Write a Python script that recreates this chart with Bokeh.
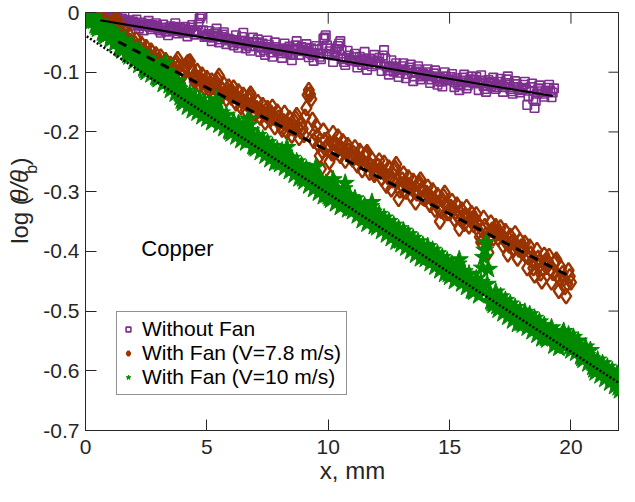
from math import pi
from bokeh.plotting import figure
from bokeh.layouts import row
from bokeh.models import Range1d, FixedTicker, Label
from bokeh.core.properties import value
from bokeh.embed import file_html
from bokeh.resources import INLINE

# ---------------- data ----------------
x_step = 0.1  # sampling step of the measurements, mm
# readings on the grid 0, 0.1, 0.2, ... and on the half-steps 0.05, 0.15, ...

purple_y = [
    0.000, -0.004, 0.000, -0.007, -0.002, -0.009, -0.004, -0.001, -0.010, -0.005,
    -0.012, -0.004, -0.016, -0.008, -0.019, -0.010, -0.006, -0.021, -0.013, -0.017,
    -0.022, -0.012, -0.027, -0.017, -0.030, -0.020, -0.014, -0.028, -0.024, -0.018,
    -0.027, -0.034, -0.020, -0.031, -0.038, -0.023, -0.030, -0.018, -0.035, -0.026,
    -0.033, -0.024, -0.040, -0.029, -0.021, -0.037, -0.030, -0.010, -0.003, -0.041,
    -0.040, -0.031, -0.048, -0.036, -0.027, -0.050, -0.041, -0.033, -0.053, -0.044,
    -0.046, -0.055, -0.038, -0.059, -0.047, -0.034, -0.060, -0.050, -0.064, -0.042,
    -0.056, -0.045, -0.066, -0.052, -0.071, -0.047, -0.060, -0.074, -0.050, -0.065,
    -0.061, -0.076, -0.052, -0.068, -0.057, -0.080, -0.063, -0.048, -0.071, -0.058,
    -0.065, -0.053, -0.075, -0.060, -0.081, -0.056, -0.069, -0.078, -0.044, -0.038,
    -0.070, -0.060, -0.083, -0.066, -0.056, -0.048, -0.078, -0.088, -0.064, -0.080,
    -0.080, -0.069, -0.092, -0.074, -0.088, -0.066, -0.096, -0.077, -0.090, -0.071,
    -0.087, -0.076, -0.098, -0.063, -0.090, -0.104, -0.080, -0.099, -0.085, -0.108,
    -0.095, -0.085, -0.110, -0.096, -0.087, -0.115, -0.099, -0.090, -0.112, -0.102,
    -0.105, -0.095, -0.118, -0.107, -0.097, -0.121, -0.109, -0.124, -0.100, -0.114,
    -0.113, -0.103, -0.125, -0.110, -0.130, -0.114, -0.104, -0.127, -0.117, -0.107,
    -0.118, -0.108, -0.130, -0.105, -0.123, -0.133, -0.113, -0.124, -0.109, -0.128,
    -0.121, -0.111, -0.133, -0.118, -0.107, -0.128, -0.136, -0.115, -0.125, -0.134,
    -0.126, -0.116, -0.155, -0.131, -0.119, -0.160, -0.136, -0.122, -0.132, -0.141,
    -0.131, -0.121, -0.142, -0.127,
]
purple_mid_y = [
    -0.002, -0.003, -0.005, -0.004, -0.006, -0.007, -0.005, -0.008, -0.007, -0.010,
    -0.009, -0.012, -0.011, -0.014, -0.013, -0.015, -0.013, -0.016, -0.018, -0.015,
    -0.018, -0.020, -0.021, -0.023, -0.022, -0.019, -0.024, -0.021, -0.025, -0.022,
    -0.030, -0.025, -0.028, -0.032, -0.027, -0.026, -0.024, -0.029, -0.031, -0.028,
    -0.028, -0.032, -0.034, -0.025, -0.031, -0.033, -0.020, -0.006, -0.030, -0.038,
    -0.036, -0.040, -0.042, -0.033, -0.039, -0.045, -0.037, -0.043, -0.047, -0.045,
    -0.050, -0.046, -0.049, -0.052, -0.041, -0.048, -0.054, -0.057, -0.051, -0.049,
    -0.050, -0.057, -0.059, -0.063, -0.058, -0.054, -0.067, -0.061, -0.058, -0.063,
    -0.068, -0.064, -0.060, -0.062, -0.069, -0.071, -0.055, -0.060, -0.064, -0.062,
    -0.059, -0.064, -0.068, -0.071, -0.068, -0.062, -0.074, -0.060, -0.042, -0.055,
    -0.065, -0.071, -0.072, -0.061, -0.052, -0.063, -0.083, -0.076, -0.072, -0.080,
    -0.075, -0.081, -0.083, -0.080, -0.077, -0.081, -0.086, -0.083, -0.080, -0.082,
    -0.082, -0.087, -0.072, -0.077, -0.097, -0.092, -0.090, -0.092, -0.096, -0.101,
    -0.090, -0.097, -0.103, -0.092, -0.101, -0.107, -0.095, -0.101, -0.107, -0.104,
    -0.100, -0.106, -0.112, -0.102, -0.109, -0.115, -0.116, -0.112, -0.107, -0.112,
    -0.108, -0.114, -0.117, -0.120, -0.122, -0.109, -0.115, -0.122, -0.112, -0.113,
    -0.113, -0.119, -0.117, -0.114, -0.128, -0.122, -0.118, -0.116, -0.119, -0.125,
    -0.116, -0.122, -0.125, -0.112, -0.118, -0.132, -0.125, -0.120, -0.129, -0.130,
    -0.121, -0.128, -0.140, -0.125, -0.145, -0.148, -0.128, -0.127, -0.136, -0.133,
    -0.126, -0.131, -0.134,
]

brown_y = [
    0.000, -0.008, 0.000, -0.012, -0.004, -0.016, -0.007, -0.020, -0.011, -0.024,
    -0.028, -0.018, -0.014, -0.012, -0.034, -0.044, -0.030, -0.052, -0.038, -0.058,
    -0.060, -0.045, -0.070, -0.052, -0.076, -0.058, -0.082, -0.064, -0.088, -0.070,
    -0.090, -0.074, -0.100, -0.080, -0.106, -0.086, -0.110, -0.088, -0.078, -0.102,
    -0.106, -0.090, -0.084, -0.082, -0.100, -0.116, -0.098, -0.122, -0.104, -0.126,
    -0.110, -0.130, -0.114, -0.136, -0.118, -0.106, -0.140, -0.120, -0.145, -0.124,
    -0.142, -0.126, -0.152, -0.132, -0.158, -0.138, -0.163, -0.144, -0.136, -0.168,
    -0.170, -0.150, -0.176, -0.155, -0.184, -0.160, -0.180, -0.158, -0.192, -0.166,
    -0.184, -0.196, -0.168, -0.200, -0.177, -0.206, -0.182, -0.172, -0.210, -0.186,
    -0.205, -0.160, -0.130, -0.145, -0.215, -0.190, -0.222, -0.262, -0.198, -0.228,
    -0.220, -0.276, -0.202, -0.234, -0.208, -0.240, -0.216, -0.248, -0.222, -0.240,
    -0.246, -0.226, -0.256, -0.232, -0.264, -0.240, -0.234, -0.268, -0.246, -0.272,
    -0.266, -0.248, -0.278, -0.252, -0.290, -0.260, -0.296, -0.264, -0.254, -0.312,
    -0.288, -0.270, -0.300, -0.276, -0.306, -0.282, -0.318, -0.288, -0.280, -0.310,
    -0.312, -0.292, -0.322, -0.298, -0.330, -0.306, -0.350, -0.314, -0.302, -0.336,
    -0.336, -0.316, -0.346, -0.322, -0.362, -0.330, -0.354, -0.326, -0.358, -0.336,
    -0.356, -0.338, -0.366, -0.385, -0.344, -0.372, -0.402, -0.352, -0.378, -0.358,
    -0.378, -0.360, -0.390, -0.366, -0.405, -0.374, -0.396, -0.370, -0.412, -0.382,
    -0.402, -0.386, -0.428, -0.392, -0.416, -0.440, -0.398, -0.424, -0.450, -0.406,
    -0.426, -0.408, -0.452, -0.420, -0.414, -0.466, -0.428, -0.446, -0.475, -0.432,
    -0.452,
]
brown_mid_y = [
    -0.004, -0.004, -0.006, -0.008, -0.010, -0.011, -0.014, -0.015, -0.018, -0.022,
    -0.022, -0.016, -0.013, -0.022, -0.040, -0.036, -0.042, -0.046, -0.048, -0.054,
    -0.052, -0.058, -0.060, -0.064, -0.066, -0.070, -0.072, -0.076, -0.078, -0.082,
    -0.082, -0.088, -0.090, -0.094, -0.096, -0.098, -0.098, -0.084, -0.090, -0.104,
    -0.098, -0.088, -0.083, -0.092, -0.108, -0.107, -0.110, -0.113, -0.116, -0.118,
    -0.121, -0.122, -0.125, -0.126, -0.112, -0.124, -0.130, -0.133, -0.134, -0.134,
    -0.134, -0.140, -0.142, -0.146, -0.148, -0.151, -0.153, -0.140, -0.153, -0.166,
    -0.160, -0.164, -0.165, -0.170, -0.172, -0.171, -0.168, -0.176, -0.178, -0.176,
    -0.190, -0.182, -0.185, -0.188, -0.192, -0.194, -0.177, -0.192, -0.198, -0.195,
    -0.175, -0.138, -0.137, -0.180, -0.202, -0.207, -0.240, -0.232, -0.214, -0.224,
    -0.250, -0.236, -0.218, -0.222, -0.224, -0.228, -0.232, -0.235, -0.232, -0.243,
    -0.236, -0.242, -0.244, -0.248, -0.252, -0.237, -0.252, -0.257, -0.259, -0.268,
    -0.257, -0.263, -0.266, -0.272, -0.275, -0.279, -0.281, -0.260, -0.283, -0.298,
    -0.280, -0.285, -0.288, -0.291, -0.294, -0.300, -0.303, -0.285, -0.296, -0.311,
    -0.302, -0.307, -0.311, -0.314, -0.318, -0.328, -0.332, -0.308, -0.320, -0.335,
    -0.326, -0.331, -0.334, -0.342, -0.346, -0.342, -0.340, -0.342, -0.347, -0.345,
    -0.346, -0.352, -0.376, -0.365, -0.358, -0.388, -0.377, -0.364, -0.368, -0.368,
    -0.369, -0.375, -0.378, -0.386, -0.390, -0.385, -0.383, -0.391, -0.397, -0.392,
    -0.394, -0.408, -0.410, -0.404, -0.428, -0.419, -0.411, -0.437, -0.428, -0.416,
    -0.417, -0.430, -0.436, -0.417, -0.440, -0.447, -0.437, -0.460, -0.454, -0.442,
]

green_y = [
    0.000, -0.008, -0.016, -0.006, -0.022, -0.028, -0.016, -0.034, -0.040, -0.026,
    -0.046, -0.032, -0.052, -0.038, -0.058, -0.064, -0.046, -0.068, -0.074, -0.056,
    -0.082, -0.064, -0.088, -0.068, -0.094, -0.100, -0.078, -0.104, -0.084, -0.108,
    -0.112, -0.092, -0.120, -0.084, -0.114, -0.130, -0.108, -0.136, -0.114, -0.142,
    -0.152, -0.132, -0.158, -0.136, -0.164, -0.142, -0.168, -0.146, -0.174, -0.152,
    -0.178, -0.156, -0.184, -0.162, -0.146, -0.188, -0.168, -0.194, -0.172, -0.198,
    -0.203, -0.182, -0.208, -0.186, -0.214, -0.192, -0.218, -0.178, -0.198, -0.224,
    -0.228, -0.206, -0.234, -0.212, -0.240, -0.218, -0.246, -0.224, -0.252, -0.230,
    -0.254, -0.232, -0.260, -0.226, -0.266, -0.244, -0.272, -0.250, -0.278, -0.256,
    -0.283, -0.262, -0.290, -0.268, -0.296, -0.258, -0.302, -0.280, -0.308, -0.286,
    -0.308, -0.314, -0.280, -0.320, -0.298, -0.326, -0.304, -0.286, -0.330, -0.310,
    -0.333, -0.312, -0.340, -0.320, -0.348, -0.324, -0.354, -0.332, -0.318, -0.358,
    -0.360, -0.338, -0.366, -0.344, -0.372, -0.350, -0.378, -0.356, -0.384, -0.362,
    -0.388, -0.366, -0.394, -0.372, -0.400, -0.378, -0.406, -0.384, -0.412, -0.390,
    -0.413, -0.392, -0.420, -0.398, -0.426, -0.404, -0.432, -0.410, -0.438, -0.416,
    -0.443, -0.422, -0.450, -0.428, -0.414, -0.454, -0.434, -0.460, -0.438, -0.466,
    -0.468, -0.446, -0.474, -0.452, -0.410, -0.385, -0.430, -0.484, -0.490, -0.468,
    -0.498, -0.476, -0.504, -0.482, -0.510, -0.488, -0.516, -0.494, -0.522, -0.500,
    -0.523, -0.502, -0.528, -0.506, -0.534, -0.512, -0.540, -0.518, -0.546, -0.524,
    -0.548, -0.540, -0.528, -0.558, -0.538, -0.562, -0.542, -0.534, -0.558, -0.540,
    -0.566, -0.544, -0.570, -0.550, -0.576, -0.582, -0.560, -0.588, -0.566, -0.594,
    -0.603, -0.582, -0.608, -0.588, -0.614, -0.594, -0.620, -0.600, -0.626, -0.606,
    -0.633,
]
green_mid_y = [
    -0.004, -0.012, -0.011, -0.014, -0.025, -0.022, -0.025, -0.037, -0.033, -0.036,
    -0.039, -0.042, -0.045, -0.048, -0.061, -0.055, -0.057, -0.071, -0.065, -0.069,
    -0.073, -0.076, -0.078, -0.081, -0.097, -0.089, -0.091, -0.094, -0.096, -0.110,
    -0.102, -0.106, -0.102, -0.099, -0.122, -0.119, -0.122, -0.125, -0.128, -0.148,
    -0.142, -0.145, -0.147, -0.150, -0.153, -0.155, -0.157, -0.160, -0.163, -0.165,
    -0.167, -0.170, -0.173, -0.154, -0.167, -0.178, -0.181, -0.183, -0.185, -0.200,
    -0.192, -0.195, -0.197, -0.200, -0.203, -0.205, -0.198, -0.188, -0.211, -0.226,
    -0.217, -0.220, -0.223, -0.226, -0.229, -0.232, -0.235, -0.238, -0.241, -0.250,
    -0.243, -0.246, -0.243, -0.246, -0.255, -0.258, -0.261, -0.264, -0.267, -0.278,
    -0.272, -0.275, -0.278, -0.282, -0.277, -0.280, -0.291, -0.294, -0.297, -0.305,
    -0.311, -0.297, -0.300, -0.309, -0.312, -0.315, -0.295, -0.306, -0.320, -0.328,
    -0.322, -0.326, -0.330, -0.334, -0.337, -0.340, -0.343, -0.325, -0.334, -0.355,
    -0.349, -0.352, -0.355, -0.358, -0.361, -0.364, -0.367, -0.370, -0.373, -0.382,
    -0.377, -0.380, -0.383, -0.386, -0.389, -0.392, -0.395, -0.398, -0.401, -0.408,
    -0.402, -0.406, -0.409, -0.412, -0.415, -0.418, -0.421, -0.424, -0.427, -0.438,
    -0.432, -0.436, -0.439, -0.421, -0.434, -0.444, -0.447, -0.449, -0.452, -0.466,
    -0.457, -0.460, -0.463, -0.428, -0.398, -0.455, -0.470, -0.487, -0.479, -0.492,
    -0.487, -0.490, -0.493, -0.496, -0.499, -0.502, -0.505, -0.508, -0.511, -0.520,
    -0.512, -0.515, -0.517, -0.520, -0.523, -0.526, -0.529, -0.532, -0.535, -0.545,
    -0.544, -0.534, -0.543, -0.548, -0.550, -0.552, -0.538, -0.546, -0.549, -0.560,
    -0.555, -0.557, -0.560, -0.563, -0.579, -0.571, -0.574, -0.577, -0.580, -0.598,
    -0.592, -0.595, -0.597, -0.601, -0.604, -0.607, -0.610, -0.613, -0.616, -0.628,
]


def grid_x(n, offset=0.0):
    return [round(offset + i * x_step, 3) for i in range(n)]


purple_x = grid_x(len(purple_y)) + grid_x(len(purple_mid_y), x_step / 2)
brown_x = grid_x(len(brown_y)) + grid_x(len(brown_mid_y), x_step / 2)
green_x = grid_x(len(green_y)) + grid_x(len(green_mid_y), x_step / 2)
purple_all = purple_y + purple_mid_y
brown_all = brown_y + brown_mid_y
green_all = green_y + green_mid_y

# linear fits (end points)
fit_purple_x = [0.6, 19.25]
fit_purple_y = [-0.013, -0.140]
fit_brown_x = [1.35, 19.95]
fit_brown_y = [-0.049, -0.442]
fit_green_x = [0.05, 22.0]
fit_green_y = [-0.040, -0.621]

series_labels = ["Without Fan", "With Fan (V=7.8 m/s)", "With Fan (V=10 m/s)"]
x_min, x_max = 0, 22
y_min, y_max = -0.7, 0
x_ticks = [0, 5, 10, 15, 20]
x_tick_labels = ["0", "5", "10", "15", "20"]
y_ticks = [0, -0.1, -0.2, -0.3, -0.4, -0.5, -0.6, -0.7]
y_tick_labels = ["0", "-0.1", "-0.2", "-0.3", "-0.4", "-0.5", "-0.6", "-0.7"]
x_axis_title = "x, mm"
y_axis_title_parts = ["log (", "θ/θ", "b", ")"]   # log (θ/θ_b)
annotation_text = "Copper"
annotation_pos = (2.3, -0.395)

# ---------------- styling ----------------
PURPLE = "#7E2F8E"
BROWN = "#993300"
GREEN = "#008A00"
AX = "#262626"
FONT = "Liberation Sans"

TOTAL_W, TOTAL_H = 619, 486
LAB_W = 40
MAIN_W = TOTAL_W - LAB_W
BORDER_L, BORDER_T = 45, 12
TICK = 11
FRAME_W = MAIN_W - BORDER_L
FRAME_H = TOTAL_H - BORDER_T - 61

p = figure(width=MAIN_W, height=TOTAL_H,
           x_range=Range1d(x_min, x_max), y_range=Range1d(y_min, y_max),
           output_backend="svg", toolbar_location=None,
           min_border_left=BORDER_L, min_border_right=0,
           min_border_top=BORDER_T, min_border_bottom=40,
           x_axis_label=x_axis_title)
p.xgrid.visible = False
p.ygrid.visible = False
p.outline_line_color = AX
p.outline_line_width = 1
p.background_fill_color = "white"
p.border_fill_color = "white"

for ax in (p.xaxis[0], p.yaxis[0]):
    ax.major_tick_in = TICK
    ax.major_tick_out = 0
    ax.minor_tick_line_color = None
    ax.axis_line_color = AX
    ax.major_tick_line_color = AX
    ax.major_label_text_font = FONT
    ax.major_label_text_font_size = "21px"
    ax.major_label_text_color = AX

xax = p.xaxis[0]
yax = p.yaxis[0]
xax.ticker = FixedTicker(ticks=x_ticks)
xax.major_label_overrides = dict(zip(x_ticks, x_tick_labels))
yax.ticker = FixedTicker(ticks=y_ticks)
yax.major_label_overrides = dict(zip(y_ticks, y_tick_labels))
xax.major_label_standoff = 9
xax.axis_label_standoff = 0
xax.axis_label_text_font = FONT
xax.axis_label_text_font_size = "24px"
xax.axis_label_text_font_style = "normal"
xax.axis_label_text_color = AX
yax.major_label_standoff = 6

# inner ticks on the top and right edges of the box
dy = TICK * (y_max - y_min) / FRAME_H
dx = TICK * (x_max - x_min) / FRAME_W
p.segment(x0=x_ticks, y0=[y_max] * len(x_ticks), x1=x_ticks, y1=[y_max - dy] * len(x_ticks),
          line_color=AX, line_width=1)
p.segment(x0=[x_max] * len(y_ticks), y0=y_ticks, x1=[x_max - dx] * len(y_ticks), y1=y_ticks,
          line_color=AX, line_width=1)

p.scatter(purple_x, purple_all, marker="square", size=8.5, fill_color=None,
          line_color=PURPLE, line_width=1.6, legend_label=series_labels[0])
p.scatter(brown_x, brown_all, marker="diamond", size=15, fill_color=None,
          line_color=BROWN, line_width=2.4, legend_label=series_labels[1])
p.scatter(green_x, green_all, marker="star", size=19, fill_color=GREEN,
          line_color=GREEN, line_width=1, legend_label=series_labels[2])

p.line(fit_purple_x, fit_purple_y, line_color="black", line_width=2)
p.line(fit_brown_x, fit_brown_y, line_color="black", line_width=3, line_dash="9 7")
p.line(fit_green_x, fit_green_y, line_color="black", line_width=2.5, line_dash="2 2")

lg = p.legend[0]
lg.location = (31, 35)
lg.label_text_font = FONT
lg.label_text_font_size = "21px"
lg.label_text_color = "black"
lg.label_height = 23
lg.glyph_height = 12
lg.glyph_width = 12
lg.label_standoff = 8
lg.padding = 5
lg.spacing = 0
lg.margin = 0
lg.border_line_color = AX
lg.border_line_width = 1
lg.background_fill_alpha = 1

p.add_layout(Label(x=annotation_pos[0], y=annotation_pos[1], text=annotation_text,
                   text_font=FONT, text_font_size="22px", text_color="black",
                   text_baseline="middle", text_align="left"))

# narrow side panel carrying the rotated y-axis title (pixel coordinates)
lab = figure(width=LAB_W, height=TOTAL_H, x_range=Range1d(0, LAB_W),
             y_range=Range1d(0, TOTAL_H), output_backend="svg",
             toolbar_location=None, x_axis_type=None, y_axis_type=None,
             min_border=0)
lab.xgrid.visible = False
lab.ygrid.visible = False
lab.outline_line_color = None
lab.border_fill_color = "white"

base_x, base_y = 19, 217
part_x = [base_x, base_x, base_x + 12, base_x]
part_y = [base_y, base_y + 48.0, base_y + 81.5, base_y + 91.0]
part_size = ["24px", "24px", "16px", "24px"]
part_style = ["normal", "italic", "normal", "normal"]
for t, xx, yy, fs, st in zip(y_axis_title_parts, part_x, part_y, part_size, part_style):
    lab.text(x=[xx], y=[yy], text=[t], angle=pi / 2, text_align="left",
             text_baseline="alphabetic", text_font=value(FONT),
             text_font_size=value(fs), text_font_style=value(st), text_color=AX)

layout = row(lab, p)
open("out.html", "w").write(file_html(layout, INLINE))
